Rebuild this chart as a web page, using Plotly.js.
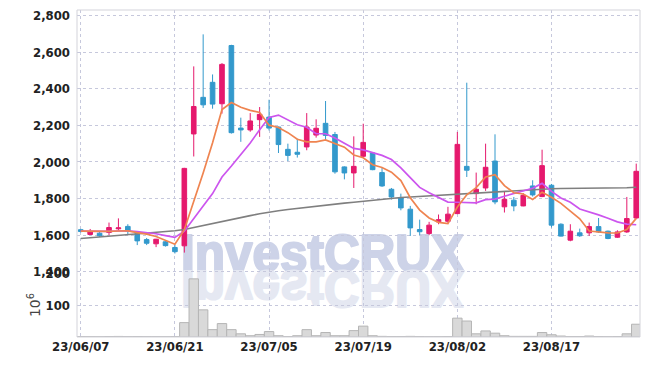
<!DOCTYPE html>
<html><head><meta charset="utf-8">
<script src="https://cdn.plot.ly/plotly-3.0.1.min.js"></script>
<style>
html,body{margin:0;padding:0;background:#fff;}
#wrap{position:relative;width:650px;height:366px;overflow:hidden;}
#wm{position:absolute;left:0;top:0;z-index:0;}
#chart{position:absolute;left:0;top:0;width:650px;height:366px;z-index:1;}
</style></head><body>
<div id="wrap">
<svg id="wm" width="650" height="366" xmlns="http://www.w3.org/2000/svg">
  <text x="181" y="271" font-family="Liberation Sans, Arial, sans-serif" font-weight="bold" font-size="51" fill="#cdd3e8" stroke="#cdd3e8" stroke-width="2.2" stroke-linejoin="round" textLength="283" lengthAdjust="spacingAndGlyphs">InvestCRUX</text>
  <text x="181" y="271" transform="translate(0,542) scale(1,-1)" font-family="Liberation Sans, Arial, sans-serif" font-weight="bold" font-size="51" fill="#e5e8f2" stroke="#e5e8f2" stroke-width="2.2" stroke-linejoin="round" textLength="283" lengthAdjust="spacingAndGlyphs">InvestCRUX</text>
</svg>
<div id="chart"></div>
</div>
<script>
var dates = ['2023-06-07','2023-06-08','2023-06-09','2023-06-12','2023-06-13','2023-06-14','2023-06-15','2023-06-16','2023-06-19','2023-06-20',
 '2023-06-21','2023-06-22','2023-06-23','2023-06-26','2023-06-27','2023-06-28','2023-06-29','2023-06-30','2023-07-03','2023-07-04',
 '2023-07-05','2023-07-06','2023-07-07','2023-07-10','2023-07-11','2023-07-12','2023-07-13','2023-07-14','2023-07-17','2023-07-18',
 '2023-07-19','2023-07-20','2023-07-21','2023-07-24','2023-07-25','2023-07-26','2023-07-27','2023-07-28','2023-07-31','2023-08-01',
 '2023-08-02','2023-08-03','2023-08-04','2023-08-07','2023-08-08','2023-08-09','2023-08-10','2023-08-11','2023-08-14','2023-08-16',
 '2023-08-17','2023-08-18','2023-08-21','2023-08-22','2023-08-23','2023-08-24','2023-08-25','2023-08-28','2023-08-29','2023-08-30'];

var openP  = [1630,1604,1611,1615,1635,1648,1609,1576,1553,1564,
 1533,1542,2153,2353,2435,2318,2636,2185,2175,2231,
 2245,2191,2069,2053,2082,2147,2211,2150,1973,1940,
 2031,2049,1942,1851,1804,1742,1631,1609,1673,1676,
 1718,1976,1827,1858,2005,1755,1791,1760,1869,1811,
 1873,1660,1573,1613,1613,1647,1622,1589,1618,1694];
var highP  = [1635,1634,1618,1669,1692,1660,1612,1585,1580,1568,
 1546,1968,2522,2697,2478,2540,2640,2242,2267,2300,
 2340,2193,2100,2127,2267,2233,2333,2164,1976,2140,
 2209,2052,1969,1858,1827,1760,1685,1673,1713,1755,
 2164,2433,1942,2100,2151,1836,1809,1830,1900,2067,
 1880,1665,1660,1636,1669,1694,1625,1627,1809,1991];
var lowP   = [1615,1600,1590,1600,1625,1605,1546,1546,1535,1538,
 1500,1505,2030,2295,2291,2264,2155,2110,2165,2137,
 2172,2049,2005,2024,2064,2133,2122,1936,1905,1858,
 2028,1955,1864,1795,1736,1596,1600,1600,1660,1667,
 1715,1918,1769,1842,1769,1724,1731,1758,1811,1808,
 1642,1593,1567,1591,1596,1613,1578,1585,1613,1690];
var closeP = [1620,1618,1597,1642,1640,1622,1569,1556,1578,1543,
 1510,1965,2303,2312,2316,2533,2160,2175,2224,2260,
 2185,2095,2036,2042,2191,2184,2145,1946,1940,1976,
 2107,1958,1869,1809,1749,1640,1619,1655,1685,1715,
 2096,1955,1851,1971,1782,1796,1760,1818,1820,1980,
 1655,1595,1622,1597,1647,1618,1582,1618,1691,1949];
var volume = [1.2,1.0,0.8,1.5,1.8,1.2,1.5,1.0,1.0,0.8,
 1.5,45,182,85,23,42,23,10,4,8,
 17,4,1.5,4,23,4,14,4,4,20,
 34,4,2,1.5,1.5,2,1.5,1,1,1.5,
 59,50,10,19,12,4,2,2,2,14,
 7,3,1.5,1.5,3,1.5,1,1.5,10,40];
var ma5  = [1622,1621,1618,1621,1623,1624,1614,1606,1593,1574,
 1551,1630,1780,1940,2105,2286,2325,2299,2282,2270,
 2201,2188,2160,2124,2110,2110,2120,2102,2081,2038,
 2023,1985,1970,1944,1898,1805,1737,1694,1670,1663,
 1754,1821,1860,1918,1931,1871,1832,1825,1795,1835,
 1807,1774,1734,1690,1623,1616,1613,1612,1631,1692];
var ma10 = [1622,1621,1620,1621,1623,1624,1620,1615,1608,1598,
 1588,1622,1693,1760,1827,1918,1978,2040,2104,2176,
 2243,2256,2230,2203,2190,2155,2154,2131,2102,2074,
 2066,2053,2036,2013,1968,1914,1861,1832,1807,1781,
 1780,1779,1777,1794,1797,1813,1827,1843,1856,1883,
 1839,1803,1780,1743,1729,1711,1693,1673,1661,1657];
var ma60 = [1582,1586,1590,1594,1598,1602,1606,1610,1614,1619,
 1624,1631,1642,1653,1664,1678,1688,1697,1707,1717,
 1727,1734,1740,1746,1754,1761,1767,1771,1775,1780,
 1786,1791,1797,1802,1806,1809,1812,1815,1818,1821,
 1826,1830,1833,1837,1840,1842,1845,1847,1850,1853,
 1854,1855,1855,1856,1856,1857,1857,1858,1859,1862];
var tickDates = ['2023-06-07','2023-06-21','2023-07-05','2023-07-19','2023-08-02','2023-08-17'];
var tickLabels = ['23/06/07','23/06/21','23/07/05','23/07/19','23/08/02','23/08/17'];

var gridC = '#c6c8dc';
var tf = {family:'DejaVu Sans Condensed, DejaVu Sans, sans-serif', size:13, color:'#222', weight:'bold'};

var traces = [
  {type:'scatter', mode:'lines', x:dates, y:ma60, line:{color:'#7f7f7f', width:1.6}, hoverinfo:'skip'},
  {type:'scatter', mode:'lines', x:dates, y:ma10, line:{color:'#cc55ee', width:1.7}, hoverinfo:'skip'},
  {type:'scatter', mode:'lines', x:dates, y:ma5, line:{color:'#ef8450', width:1.7}, hoverinfo:'skip'},
  {type:'candlestick', x:dates, open:openP, high:highP, low:lowP, close:closeP,
   increasing:{line:{color:'#e5196d', width:1}, fillcolor:'#e5196d'},
   decreasing:{line:{color:'#3399cc', width:1}, fillcolor:'#3399cc'},
   whiskerwidth:0, hoverinfo:'skip'},
  {type:'bar', x:dates, y:volume, yaxis:'y2', marker:{color:'#d9d9d9', line:{color:'#b5b5b5', width:1}}, hoverinfo:'skip'}
];

var layout = {
  width:650, height:366,
  margin:{l:77, r:10, t:9.5, b:29, pad:0},
  paper_bgcolor:'rgba(0,0,0,0)', plot_bgcolor:'rgba(0,0,0,0)',
  showlegend:false, bargap:0,
  xaxis:{type:'category', anchor:'y2', range:[-0.4,59.4], rangeslider:{visible:false},
    tickmode:'array', tickvals:tickDates, ticktext:tickLabels, tickfont:tf,
    showgrid:true, gridcolor:gridC, griddash:'dot', gridwidth:1, zeroline:false, showline:false, ticks:''},
  yaxis:{domain:[0.1954,1], range:[1393,2830], tick0:0, dtick:200, tickformat:',d', tickfont:tf,
    showgrid:true, gridcolor:gridC, griddash:'dot', gridwidth:1, zeroline:false, showline:false, ticks:'', ticklabelstandoff:6},
  yaxis2:{domain:[0,0.1954], range:[0,200], tickmode:'array', tickvals:[100,200], tickfont:tf,
    showgrid:true, gridcolor:gridC, griddash:'dot', gridwidth:1, zeroline:false, showline:false, ticks:'', ticklabelstandoff:6,
    title:{text:'10<sup>6</sup>', font:{family:'DejaVu Sans, sans-serif', size:14, color:'#444'}, standoff:1}},
  shapes:[{type:'rect', xref:'paper', yref:'paper', x0:0, x1:1, y0:0, y1:1, line:{color:'#d3d3da', width:1}}]
};

Plotly.newPlot('chart', traces, layout, {staticPlot:true, displayModeBar:false});
</script>
</body></html>
